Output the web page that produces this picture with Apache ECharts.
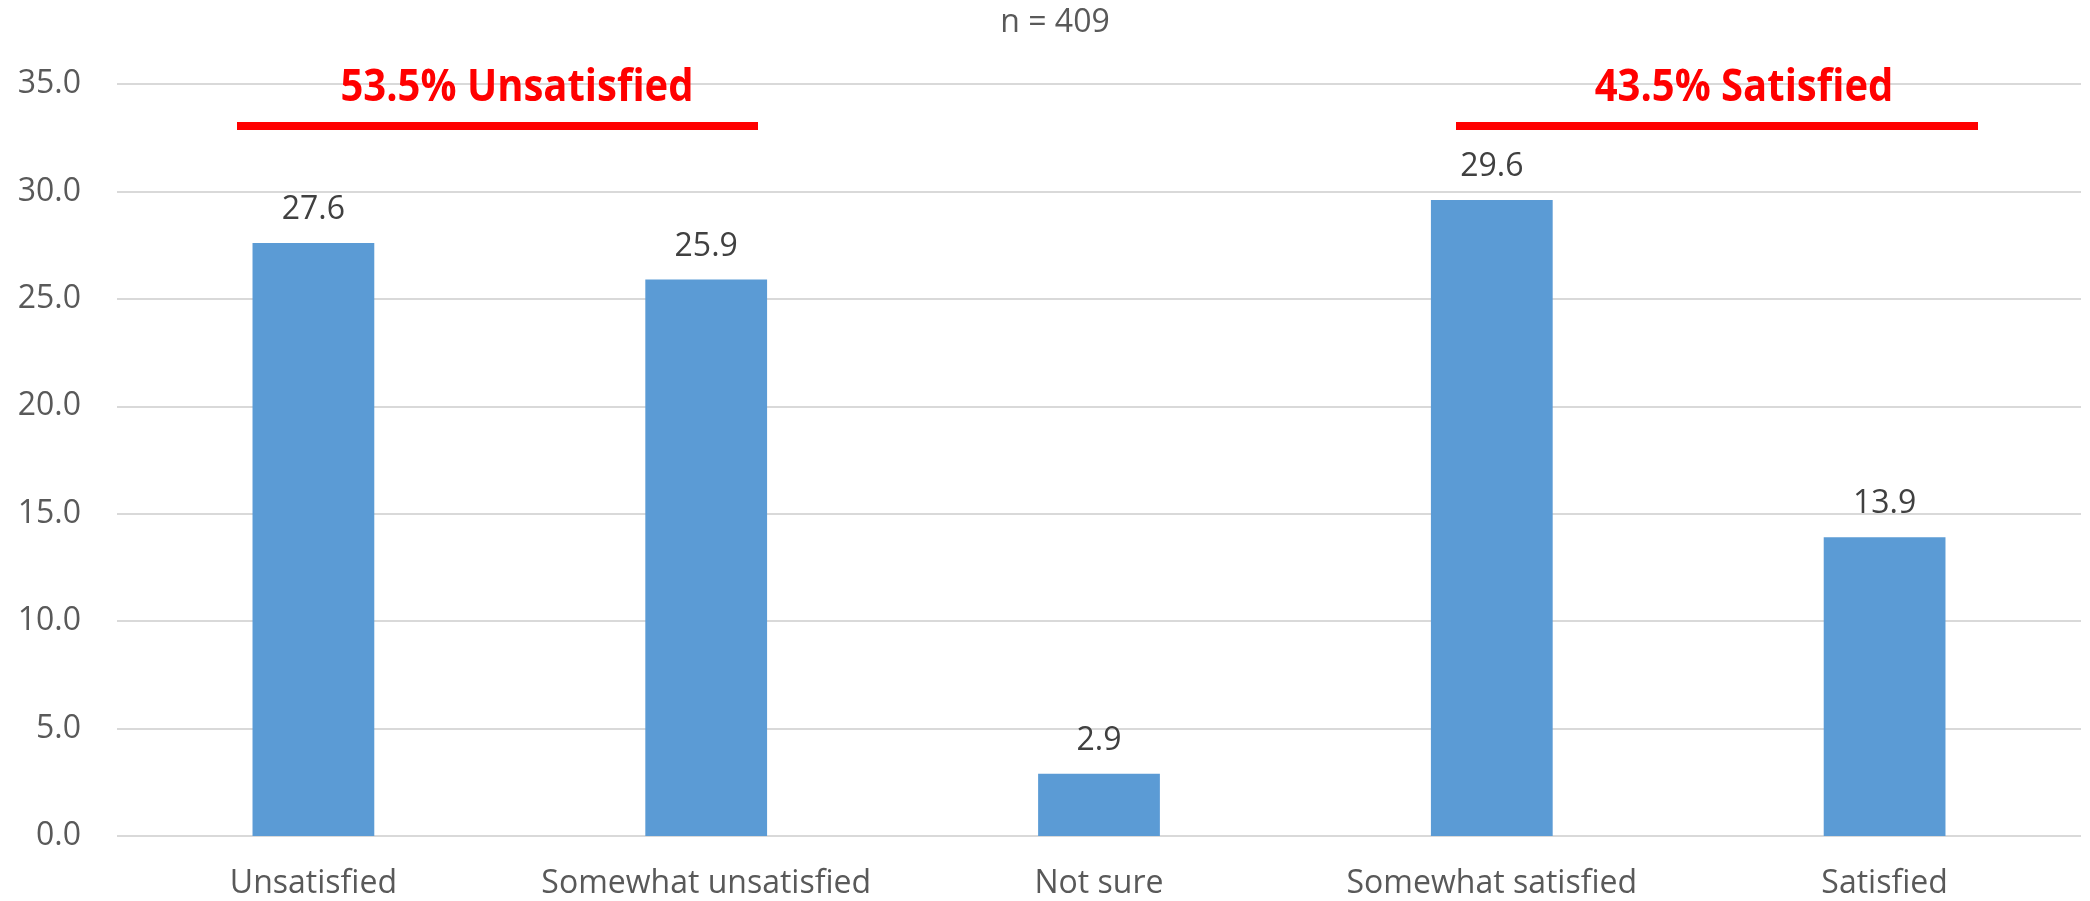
<!DOCTYPE html>
<html>
<head>
<meta charset="utf-8">
<title>Satisfaction survey</title>
<script src="https://cdn.jsdelivr.net/npm/echarts@6/dist/echarts.min.js"></script>
<style>
  html, body { margin: 0; padding: 0; background: #ffffff; }
  #chart { width: 2090px; height: 901px; }
</style>
</head>
<body>
<div id="chart"></div>
<script>
// Response categories and share of respondents (%)
const categories = ['Unsatisfied', 'Somewhat unsatisfied', 'Not sure', 'Somewhat satisfied', 'Satisfied'];
const shares = [27.6, 25.9, 2.9, 29.6, 13.9];
const sampleNote = 'n = 409';
// Group summaries drawn above the bars
const groupLabels = ['53.5% Unsatisfied', '43.5% Satisfied'];

const FONT = '"Open Sans", "Noto Sans", sans-serif';

const chart = echarts.init(document.getElementById('chart'), null, { renderer: 'canvas' });

// Bracket bars and captions above each group (pixel placement)
const groupBars = [
  { x1: 237, x2: 758, cx: 517 },
  { x1: 1456, x2: 1978, cx: 1744 }
];
const graphics = [
  {
    type: 'text', x: 1055, y: 23, z: 100,
    style: { text: sampleNote, fill: '#595959', font: '32px ' + FONT, textAlign: 'center', textVerticalAlign: 'middle' }
  }
];
groupBars.forEach((g, i) => {
  graphics.push({
    type: 'line', z: 100,
    shape: { x1: g.x1, y1: 126, x2: g.x2, y2: 126 },
    style: { stroke: '#ff0000', lineWidth: 8 }
  });
  graphics.push({
    type: 'text', x: g.cx, y: 88, z: 100,
    scaleY: 1.1,
    style: { text: groupLabels[i], fill: '#ff0000', font: 'bold 40px ' + FONT, textAlign: 'center', textVerticalAlign: 'middle' }
  });
});

chart.setOption({
  animation: false,
  backgroundColor: '#ffffff',
  grid: { left: 117, right: 9, top: 84, bottom: 65, containLabel: false },
  xAxis: {
    type: 'category',
    data: categories,
    axisLine: { show: false },
    axisTick: { show: false },
    axisLabel: { color: '#595959', fontSize: 32, fontFamily: FONT, margin: 32, interval: 0 }
  },
  yAxis: {
    type: 'value',
    min: 0, max: 35, interval: 5,
    axisLine: { show: false },
    axisTick: { show: false },
    splitLine: { lineStyle: { color: '#d9d9d9', width: 2 } },
    axisLabel: {
      color: '#595959', fontSize: 32, fontFamily: FONT, margin: 36,
      formatter: v => v.toFixed(1)
    }
  },
  series: [{
    type: 'bar',
    data: shares,
    barWidth: '31%',
    itemStyle: { color: '#5b9bd5' },
    label: {
      show: true, position: 'top', distance: 17,
      color: '#404040', fontSize: 32, fontFamily: FONT,
      formatter: p => p.value.toFixed(1)
    }
  }],
  graphic: graphics
});
</script>
</body>
</html>
